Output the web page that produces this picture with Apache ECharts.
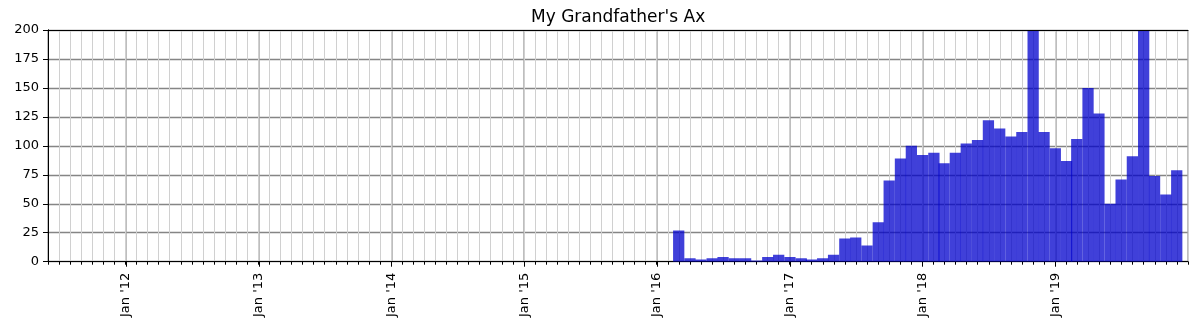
<!DOCTYPE html>
<html>
<head>
<meta charset="utf-8">
<script src="https://cdn.jsdelivr.net/npm/echarts@6/dist/echarts.min.js"></script>
<style>
html,body{margin:0;padding:0;background:#fff;}
#chart{width:1200px;height:320px;}
</style>
</head>
<body>
<div id="chart"></div>
<script>
// Monthly categories (first day of each month)
const months = [
  "2016-03","2016-04","2016-05","2016-06","2016-07","2016-08","2016-09","2016-10","2016-11","2016-12",
  "2017-01","2017-02","2017-03","2017-04","2017-05","2017-06","2017-07","2017-08","2017-09","2017-10","2017-11","2017-12",
  "2018-01","2018-02","2018-03","2018-04","2018-05","2018-06","2018-07","2018-08","2018-09","2018-10","2018-11","2018-12",
  "2019-01","2019-02","2019-03","2019-04","2019-05","2019-06","2019-07","2019-08","2019-09","2019-10","2019-11","2019-12"
];
// Monthly values (two months exceed the axis and are clipped)
const values = [
  27, 3, 2, 3, 4, 3, 3, 1, 4, 6,
  4, 3, 2, 3, 6, 20, 21, 14, 34, 70, 89, 100,
  92, 94, 85, 94, 102, 105, 122, 115, 108, 112, 230, 112,
  98, 87, 106, 150, 128, 50, 71, 91, 260, 74, 58, 79
];
const yTicks = [0, 25, 50, 75, 100, 125, 150, 175, 200];
const xStart = "2011-06-01";
const xEnd = "2020-01-01";

function toUTC(s) {
  const p = s.split("-").map(Number);
  return Date.UTC(p[0], p[1] - 1, p[2] || 1);
}
const xMin = toUTC(xStart), xMax = toUTC(xEnd);
function monthIndex(t) {
  const a = new Date(xMin), b = new Date(t);
  return (b.getUTCFullYear() - a.getUTCFullYear()) * 12 + (b.getUTCMonth() - a.getUTCMonth());
}
const nMonths = monthIndex(xMax);
const DAY = 86400000;
const yMax = yTicks[yTicks.length - 1];
const data = months.map((m, i) => [toUTC(m), values[i]]);

const chart = echarts.init(document.getElementById('chart'), null, {renderer: 'canvas'});
const FONT = 'DejaVu Sans';
const frameAxis = {
  axisLine: {show: true, lineStyle: {color: '#000', width: 1}},
  axisTick: {show: false}, axisLabel: {show: false}, splitLine: {show: false}, z: 10
};
chart.setOption({
  useUTC: true,
  animation: false,
  backgroundColor: '#ffffff',
  textStyle: {fontFamily: FONT},
  title: {
    text: "My Grandfather's Ax",
    left: 526, top: 4,
    textStyle: {fontFamily: FONT, fontSize: 17, fontWeight: 'normal', color: '#000'}
  },
  grid: {left: 48, right: 12, top: 30, bottom: 57, show: false},
  xAxis: [
    {
      type: 'time', min: xMin, max: xMax,
      minInterval: 365 * DAY, maxInterval: 366 * DAY,
      axisLine: {show: true, lineStyle: {color: '#000', width: 1}},
      axisTick: {show: true, length: 5, lineStyle: {color: '#000', width: 1}},
      axisLabel: {
        rotate: 90, margin: 11, fontSize: 13, color: '#000', fontFamily: FONT,
        showMinLabel: false, showMaxLabel: false,
        formatter: function (v) {
          const d = new Date(v);
          if (d.getUTCMonth() !== 0 || d.getUTCDate() !== 1) return '';
          return "Jan '" + String(d.getUTCFullYear()).slice(2);
        }
      },
      splitLine: {show: true, lineStyle: {color: '#a8a8a8', width: 1.5}}
    },
    {
      type: 'value', min: 0, max: nMonths, interval: 1, position: 'bottom',
      axisLine: {show: false},
      axisTick: {show: true, length: 3, lineStyle: {color: '#000', width: 1}},
      axisLabel: {show: false},
      splitLine: {show: true, lineStyle: {color: '#d0d0d0', width: 1}}
    },
    Object.assign({type: 'value', min: 0, max: 1, position: 'top'}, frameAxis)
  ],
  yAxis: [
    {
      type: 'value', min: yTicks[0], max: yMax, interval: yTicks[1] - yTicks[0],
      axisLine: {show: true, lineStyle: {color: '#000', width: 1}},
      axisTick: {show: true, length: 5, lineStyle: {color: '#000', width: 1}},
      axisLabel: {margin: 9, fontSize: 13, color: '#000', fontFamily: FONT},
      splitLine: {show: true, lineStyle: {color: '#858585', width: 1.3}}
    },
    Object.assign({type: 'value', min: 0, max: 1, position: 'right'}, frameAxis)
  ],
  series: [{
    type: 'custom',
    xAxisIndex: 0,
    yAxisIndex: 0,
    clip: true,
    data: data,
    encode: {x: 0, y: 1},
    renderItem: function (params, api) {
      const t = api.value(0);
      const v = Math.min(api.value(1), yMax);
      const p0 = api.coord([t - 15.5 * DAY, v]);
      const p1 = api.coord([t + 15.5 * DAY, 0]);
      return {
        type: 'rect',
        shape: {x: p0[0], y: p0[1], width: p1[0] - p0[0], height: p1[1] - p0[1]},
        style: {fill: 'rgba(0,0,204,0.75)'}
      };
    }
  }]
});
</script>
</body>
</html>
